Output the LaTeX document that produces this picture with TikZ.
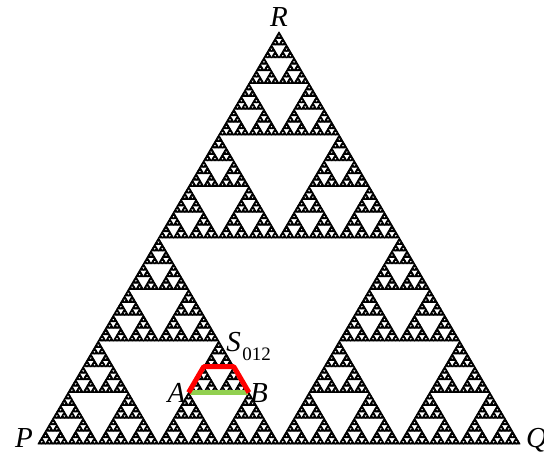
\documentclass[tikz,border=0pt]{standalone}
\usepackage{fontspec}
\setmainfont{Liberation Serif}
\usetikzlibrary{calc,positioning}

\definecolor{abgreen}{RGB}{146,208,80}

% height/width ratio of the big triangle
\newcommand\hratio{0.8548}

% depth, x, y (bottom-left corner), side
\newcommand\sierp[4]{%
  \ifnum#1=0
    \fill[fractal] (#2,#3) -- ++(#4,0) -- ++(-0.5*#4,\hratio*#4) -- cycle;
  \else
    \begingroup
    \pgfmathsetmacro\hw{#4/2}%
    \pgfmathsetmacro\xb{#2+\hw}%
    \pgfmathsetmacro\xc{#2+\hw/2}%
    \pgfmathsetmacro\yc{#3+\hratio*\hw}%
    \pgfmathtruncatemacro\nd{#1-1}%
    \edef\sub{\noexpand\sierp{\nd}{#2}{#3}{\hw}}\sub
    \edef\sub{\noexpand\sierp{\nd}{\xb}{#3}{\hw}}\sub
    \edef\sub{\noexpand\sierp{\nd}{\xc}{\yc}{\hw}}\sub
    \endgroup
  \fi}

\begin{document}
\begin{tikzpicture}[
  x=1pt, y=1pt,
  fractal/.style={fill=black, draw=black, line width=0.9pt, line join=round},
  lbl/.style={font=\fontsize{29}{34}\selectfont\itshape, inner sep=0pt},
  sub/.style={font=\fontsize{19}{22}\selectfont, inner sep=0pt},
  redpath/.style={draw=red, line width=5pt, line join=round},
  greenline/.style={draw=abgreen, line width=4.5pt}
]
  \useasboundingbox (0,0) rectangle (544,461);

  \coordinate (P) at (38,17);
  \coordinate (Q) at (520,17);
  \coordinate (R) at (279,429);

  \sierp{7}{38}{17}{482}

  % the subtriangle S_012
  \coordinate (A) at (188.6,68.5);
  \coordinate (B) at (248.9,68.5);
  \coordinate (S) at (218.75,120);

  \draw[greenline] ([xshift=1pt]A) -- ([xshift=-1pt]B);
  \draw[redpath] (A) -- ($(A)!0.5!(S)$) -- ($(B)!0.5!(S)$) -- (B);

  \node[lbl, anchor=base] (lblR) at ([yshift=5pt]R) {R};
  \node[lbl, anchor=base east] (lblP) at ([xshift=-5pt,yshift=-3pt]P) {P};
  \node[lbl, anchor=base west] (lblQ) at ([xshift=6pt,yshift=-3pt]Q) {Q};
  \node[lbl, anchor=base east] (lblA) at ([xshift=-3pt,yshift=-9.5pt]A) {A};
  \node[lbl, anchor=base west] (lblB) at ([xshift=1pt,yshift=-9.5pt]B) {B};
  \node[lbl, anchor=base west] (lblS) at ([xshift=7.5pt,yshift=-10.7pt]S) {S};
  \node[sub, anchor=base west] (lblS012) at ([xshift=1pt,yshift=-8.5pt]lblS.base east) {012};
\end{tikzpicture}
\end{document}
